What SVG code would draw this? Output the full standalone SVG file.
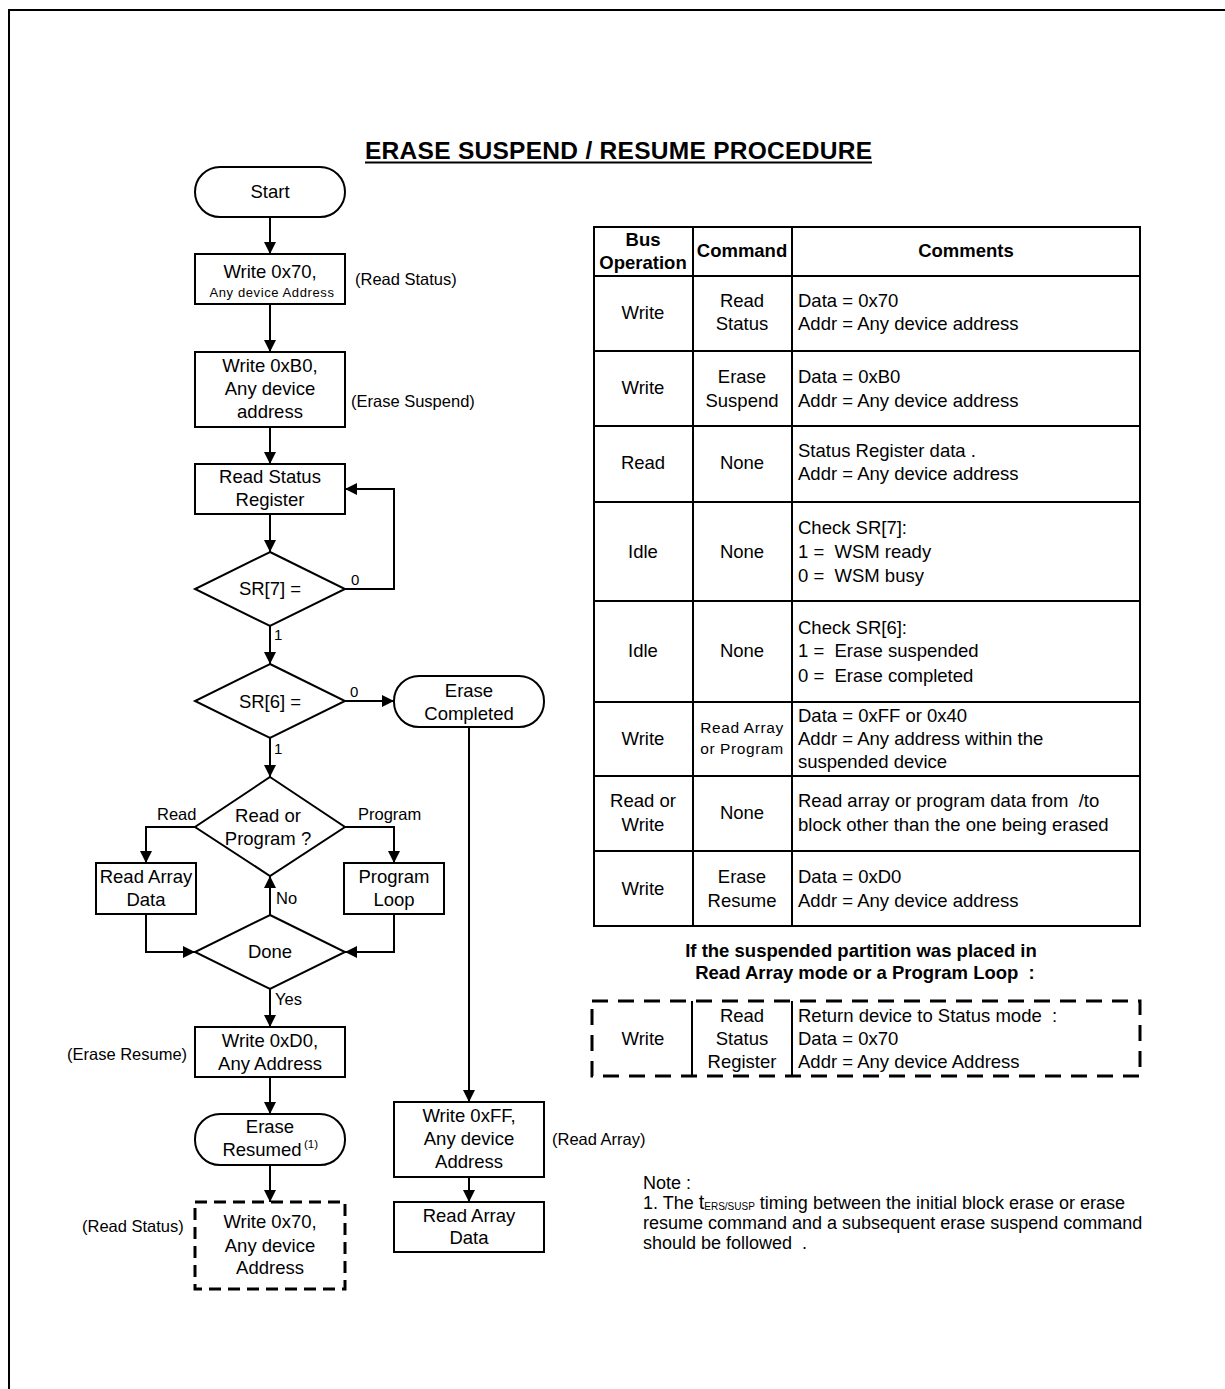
<svg xmlns="http://www.w3.org/2000/svg" width="1225" height="1389" viewBox="0 0 1225 1389">
<defs>
<marker id="arr" viewBox="0 0 12 12" markerWidth="12" markerHeight="12" refX="12" refY="6" orient="auto" markerUnits="userSpaceOnUse">
<path d="M0,0 L12,6 L0,12 z" fill="#000"/>
</marker>
<style>
text{font-family:"Liberation Sans",Arial,sans-serif;fill:#000}
.n{fill:#fff;stroke:#000;stroke-width:2}
.d{fill:#fff;stroke:#000;stroke-width:3;stroke-dasharray:12 7}
.c{fill:none;stroke:#000;stroke-width:2;marker-end:url(#arr)}
.t{font-size:18.5px;text-anchor:middle}
.s{font-size:16.5px}
.lb{font-size:15px}
.tb{font-size:18.5px}
.tbc{font-size:18.5px;text-anchor:middle}
.hd{font-size:18.5px;font-weight:bold;text-anchor:middle}
.bh{font-size:18.5px;font-weight:bold;text-anchor:middle}
.nt{font-size:18px}
.g{stroke:#000;stroke-width:2}
</style>
</defs>
<rect x="0" y="0" width="1225" height="1389" fill="#fff"/>
<path d="M9,1389 V10 H1225" fill="none" stroke="#000" stroke-width="2"/>

<g id="title">
<text x="618.5" y="159" font-size="24.5" font-weight="bold" text-anchor="middle" textLength="507" lengthAdjust="spacing">ERASE SUSPEND / RESUME PROCEDURE</text>
<line x1="365" y1="162.5" x2="872" y2="162.5" stroke="#000" stroke-width="2"/>
</g>

<g id="connectors">
<path class="c" d="M270,217 V254"/>
<path class="c" d="M270,304 V352"/>
<path class="c" d="M270,427 V464"/>
<path class="c" d="M270,514 V552"/>
<path class="c" d="M345,589 H394 V489 H345"/>
<path class="c" d="M270,626 V664"/>
<path class="c" d="M345,701 H394"/>
<path class="c" d="M270,738 V777"/>
<path class="c" d="M195,827 H146 V863"/>
<path class="c" d="M345,827 H394 V863"/>
<path class="c" d="M146,914 V952 H195"/>
<path class="c" d="M394,914 V952 H345"/>
<path class="c" d="M270,915 V876"/>
<path class="c" d="M270,989 V1027"/>
<path class="c" d="M270,1077 V1114"/>
<path class="c" d="M270,1165 V1202"/>
<path class="c" d="M469,727 V1102"/>
<path class="c" d="M469,1177 V1202"/>
<text class="lb" x="351" y="585">0</text>
<text class="lb" x="274" y="640">1</text>
<text class="lb" x="350" y="697">0</text>
<text class="lb" x="274" y="754">1</text>
<text class="s" x="157" y="820">Read</text>
<text class="s" x="358" y="820">Program</text>
<text class="s" x="276" y="904">No</text>
<text class="s" x="275" y="1005">Yes</text>
</g>

<g id="start">
<rect class="n" x="195" y="167" width="150" height="50" rx="25"/>
<text class="t" x="270" y="198">Start</text>
</g>
<g id="write70">
<rect class="n" x="195" y="254" width="150" height="50"/>
<text class="t" x="270" y="278">Write 0x70,</text>
<text x="272" y="297" font-size="13" letter-spacing="0.6" text-anchor="middle">Any device Address</text>
<text class="s" x="355" y="285">(Read Status)</text>
</g>
<g id="writeB0">
<rect class="n" x="195" y="352" width="150" height="75"/>
<text class="t" x="270" y="372">Write 0xB0,</text>
<text class="t" x="270" y="395">Any device</text>
<text class="t" x="270" y="418">address</text>
<text class="s" x="351" y="407">(Erase Suspend)</text>
</g>
<g id="readSR">
<rect class="n" x="195" y="464" width="150" height="50"/>
<text class="t" x="270" y="483">Read Status</text>
<text class="t" x="270" y="506">Register</text>
</g>
<g id="sr7">
<polygon class="n" points="270,552 345,589 270,626 195,589"/>
<text class="t" x="270" y="595">SR[7] =</text>
</g>
<g id="sr6">
<polygon class="n" points="270,664 345,701 270,738 195,701"/>
<text class="t" x="270" y="708">SR[6] =</text>
</g>
<g id="eraseCompleted">
<rect class="n" x="394" y="676" width="150" height="51" rx="25"/>
<text class="t" x="469" y="697">Erase</text>
<text class="t" x="469" y="720">Completed</text>
</g>
<g id="readOrProgram">
<polygon class="n" points="270,777 345,827 270,876 195,827"/>
<text class="t" x="268" y="822">Read or</text>
<text class="t" x="268" y="845">Program ?</text>
</g>
<g id="readArrayData1">
<rect class="n" x="96" y="863" width="100" height="51"/>
<text class="t" x="146" y="883">Read Array</text>
<text class="t" x="146" y="906">Data</text>
</g>
<g id="programLoop">
<rect class="n" x="344" y="863" width="100" height="51"/>
<text class="t" x="394" y="883">Program</text>
<text class="t" x="394" y="906">Loop</text>
</g>
<g id="done">
<polygon class="n" points="270,915 345,952 270,989 195,952"/>
<text class="t" x="270" y="958">Done</text>
</g>
<g id="writeD0">
<rect class="n" x="195" y="1027" width="150" height="50"/>
<text class="t" x="270" y="1047">Write 0xD0,</text>
<text class="t" x="270" y="1070">Any Address</text>
<text class="s" x="67" y="1060">(Erase Resume)</text>
</g>
<g id="eraseResumed">
<rect class="n" x="195" y="1114" width="150" height="51" rx="25"/>
<text class="t" x="270" y="1133">Erase</text>
<text class="t" x="262" y="1156">Resumed</text>
<text x="304" y="1148" font-size="11.5">(1)</text>
</g>
<g id="write70b">
<rect class="d" x="195" y="1202" width="150" height="87"/>
<text class="t" x="270" y="1228">Write 0x70,</text>
<text class="t" x="270" y="1252">Any device</text>
<text class="t" x="270" y="1274">Address</text>
<text class="s" x="82" y="1232">(Read Status)</text>
</g>
<g id="writeFF">
<rect class="n" x="394" y="1102" width="150" height="75"/>
<text class="t" x="469" y="1122">Write 0xFF,</text>
<text class="t" x="469" y="1145">Any device</text>
<text class="t" x="469" y="1168">Address</text>
<text class="s" x="552" y="1145">(Read Array)</text>
</g>
<g id="readArrayData2">
<rect class="n" x="394" y="1202" width="150" height="50"/>
<text class="t" x="469" y="1222">Read Array</text>
<text class="t" x="469" y="1244">Data</text>
</g>

<g id="table">
<rect x="594" y="227" width="546" height="699" fill="none" stroke="#000" stroke-width="2"/>
<path class="g" d="M693,227 V926 M792,227 V926 M594,276 H1140 M594,351 H1140 M594,426 H1140 M594,502 H1140 M594,601 H1140 M594,702 H1140 M594,776 H1140 M594,851 H1140"/>
<text class="hd" x="643" y="246">Bus</text>
<text class="hd" x="643" y="269">Operation</text>
<text class="hd" x="742" y="257">Command</text>
<text class="hd" x="966" y="257">Comments</text>

<text class="tbc" x="643" y="319">Write</text>
<text class="tbc" x="742" y="307">Read</text>
<text class="tbc" x="742" y="330">Status</text>
<text class="tb" x="798" y="307">Data  = 0x70</text>
<text class="tb" x="798" y="330">Addr = Any device address</text>

<text class="tbc" x="643" y="394">Write</text>
<text class="tbc" x="742" y="383">Erase</text>
<text class="tbc" x="742" y="407">Suspend</text>
<text class="tb" x="798" y="383">Data  = 0xB0</text>
<text class="tb" x="798" y="407">Addr = Any device address</text>

<text class="tbc" x="643" y="469">Read</text>
<text class="tbc" x="742" y="469">None</text>
<text class="tb" x="798" y="457">Status Register data  .</text>
<text class="tb" x="798" y="480">Addr = Any device address</text>

<text class="tbc" x="643" y="558">Idle</text>
<text class="tbc" x="742" y="558">None</text>
<text class="tb" x="798" y="534">Check SR[7]:</text>
<text class="tb" x="798" y="558" xml:space="preserve">1 =  WSM ready</text>
<text class="tb" x="798" y="582" xml:space="preserve">0 =  WSM busy</text>

<text class="tbc" x="643" y="657">Idle</text>
<text class="tbc" x="742" y="657">None</text>
<text class="tb" x="798" y="634">Check SR[6]:</text>
<text class="tb" x="798" y="657" xml:space="preserve">1 =  Erase suspended</text>
<text class="tb" x="798" y="682" xml:space="preserve">0 =  Erase completed</text>

<text class="tbc" x="643" y="745">Write</text>
<text x="742" y="733" font-size="15.5" letter-spacing="0.6" text-anchor="middle">Read Array</text>
<text x="742" y="754" font-size="15.5" letter-spacing="0.6" text-anchor="middle">or Program</text>
<text class="tb" x="798" y="722">Data  = 0xFF or 0x40</text>
<text class="tb" x="798" y="745">Addr = Any address within the</text>
<text class="tb" x="798" y="768">suspended device</text>

<text class="tbc" x="643" y="807">Read or</text>
<text class="tbc" x="643" y="831">Write</text>
<text class="tbc" x="742" y="819">None</text>
<text class="tb" x="798" y="807" xml:space="preserve">Read array or program data from  /to</text>
<text class="tb" x="798" y="831">block other than the one being erased</text>

<text class="tbc" x="643" y="895">Write</text>
<text class="tbc" x="742" y="883">Erase</text>
<text class="tbc" x="742" y="907">Resume</text>
<text class="tb" x="798" y="883">Data  = 0xD0</text>
<text class="tb" x="798" y="907">Addr = Any device address</text>
</g>

<g id="suspendNote">
<text class="bh" x="861" y="957">If the suspended partition was placed in</text>
<text class="bh" x="865" y="979" xml:space="preserve">Read Array mode or a Program Loop  :</text>
</g>
<g id="dashedTable">
<rect x="592" y="1001" width="548" height="75" fill="none" stroke="#000" stroke-width="3" stroke-dasharray="16 10"/>
<path class="g" d="M692,1001 V1076 M792,1001 V1076"/>
<text class="tbc" x="643" y="1045">Write</text>
<text class="tbc" x="742" y="1022">Read</text>
<text class="tbc" x="742" y="1045">Status</text>
<text class="tbc" x="742" y="1068">Register</text>
<text class="tb" x="798" y="1022" xml:space="preserve">Return device to Status mode  :</text>
<text class="tb" x="798" y="1045">Data = 0x70</text>
<text class="tb" x="798" y="1068">Addr = Any device Address</text>
</g>

<g id="note">
<text class="nt" x="643" y="1189">Note :</text>
<text class="nt" x="643" y="1209">1. The <tspan font-size="20">t</tspan><tspan font-size="10" dy="1">ERS/SUSP</tspan><tspan dy="-1"> timing between the initial block erase or erase</tspan></text>
<text class="nt" x="643" y="1229">resume command and a subsequent erase suspend command</text>
<text class="nt" x="643" y="1249" xml:space="preserve">should be followed  .</text>
</g>
</svg>
